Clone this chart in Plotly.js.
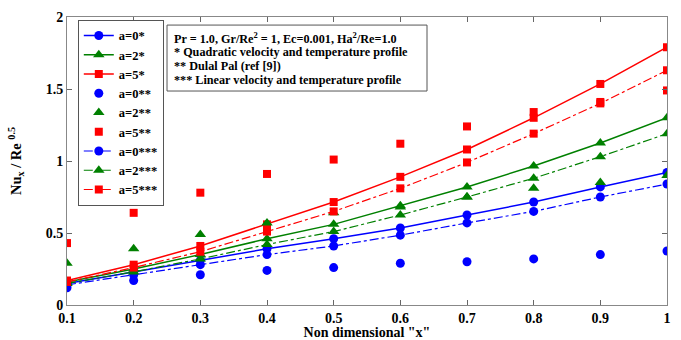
<!DOCTYPE html>
<html>
<head>
<meta charset="utf-8">
<script src="https://cdn.plot.ly/plotly-3.0.1.min.js"></script>
<style>html,body{margin:0;padding:0;background:#fff;}#chart{width:681px;height:340px;}</style>
</head>
<body>
<div id="chart"></div>
<script>
const xVals = [0.1, 0.2, 0.3, 0.4, 0.5, 0.6, 0.7, 0.8, 0.9, 1.0];
// * Quadratic velocity and temperature profile
const a0_quad = [0.15, 0.23, 0.31, 0.39, 0.46, 0.535, 0.625, 0.715, 0.82, 0.92];
const a2_quad = [0.16, 0.25, 0.35, 0.46, 0.56, 0.69, 0.82, 0.965, 1.125, 1.30];
const a5_quad = [0.17, 0.28, 0.41, 0.56, 0.715, 0.89, 1.08, 1.30, 1.535, 1.79];
// ** Dulal Pal (ref [9])
const a0_pal = [0.12, 0.17, 0.21, 0.24, 0.26, 0.29, 0.30, 0.32, 0.35, 0.375];
const a2_pal = [0.29, 0.39, 0.49, 0.57, 0.64, 0.68, 0.75, 0.81, 0.85, 0.90];
const a5_pal = [0.43, 0.64, 0.78, 0.91, 1.01, 1.12, 1.24, 1.34, 1.41, 1.49];
// *** Linear velocity and temperature profile
const a0_lin = [0.14, 0.21, 0.28, 0.35, 0.41, 0.485, 0.57, 0.65, 0.75, 0.84];
const a2_lin = [0.15, 0.23, 0.32, 0.42, 0.51, 0.625, 0.75, 0.88, 1.03, 1.19];
const a5_lin = [0.16, 0.26, 0.37, 0.51, 0.65, 0.81, 0.99, 1.19, 1.40, 1.63];

const xTicks = [0.1, 0.2, 0.3, 0.4, 0.5, 0.6, 0.7, 0.8, 0.9, 1];
const xTickText = ['0.1', '0.2', '0.3', '0.4', '0.5', '0.6', '0.7', '0.8', '0.9', '1'];
const yTicks = [0, 0.5, 1, 1.5, 2];
const yTickText = ['0', '0.5', '1', '1.5', '2'];

const infoLines = [
  'Pr = 1.0, Gr/Re<sup>2</sup> = 1, Ec=0.001, Ha<sup>2</sup>/Re=1.0',
  '* Quadratic velocity and temperature profile',
  '** Dulal Pal (ref [9])',
  '*** Linear velocity and temperature profile'
];

const BLUE = '#0000ff', GREEN = '#008000', RED = '#ff0000';
const FONT = 'Liberation Serif, Times New Roman, serif';

function tr(name, y, color, sym, size, mode, dash) {
  const t = {x: xVals, y: y, name: name, type: 'scatter', mode: mode,
    marker: {color: color, symbol: sym, size: size}};
  if (mode.indexOf('lines') >= 0) t.line = {color: color, width: dash === 'solid' ? 1.5 : 1.2, dash: dash};
  return t;
}

const data = [
  tr('a=0*', a0_quad, BLUE, 'circle', 9, 'lines+markers', 'solid'),
  tr('a=2*', a2_quad, GREEN, 'triangle-up', 10, 'lines+markers', 'solid'),
  tr('a=5*', a5_quad, RED, 'square', 8, 'lines+markers', 'solid'),
  tr('a=0**', a0_pal, BLUE, 'circle', 9, 'markers'),
  tr('a=2**', a2_pal, GREEN, 'triangle-up', 10, 'markers'),
  tr('a=5**', a5_pal, RED, 'square', 8, 'markers'),
  tr('a=0***', a0_lin, BLUE, 'circle', 9, 'lines+markers', 'dashdot'),
  tr('a=2***', a2_lin, GREEN, 'triangle-up', 10, 'lines+markers', 'dashdot'),
  tr('a=5***', a5_lin, RED, 'square', 8, 'lines+markers', 'dashdot')
];

const lineY = [0.927, 0.878, 0.830, 0.781];
const annotations = infoLines.map((t, i) => ({
  xref: 'paper', yref: 'paper', x: 0.175, y: lineY[i], xanchor: 'left', yanchor: 'middle',
  text: t, align: 'left', showarrow: false,
  font: {family: FONT, size: 12.2, color: '#000', weight: 'bold'}
}));

const layout = {
  width: 681, height: 340,
  margin: {l: 67, r: 14, t: 17, b: 35},
  paper_bgcolor: '#fff', plot_bgcolor: '#fff',
  font: {family: FONT, color: '#000'},
  showlegend: true,
  legend: {x: 0.018, y: 0.99, xanchor: 'left', yanchor: 'top',
    bordercolor: '#555', borderwidth: 1, bgcolor: '#fff',
    font: {family: FONT, size: 12.5, color: '#000', weight: 'bold'},
    tracegroupgap: 0, itemwidth: 30},
  xaxis: {range: [0.1, 1], tickvals: xTicks, ticktext: xTickText,
    ticks: 'inside', ticklen: 5, tickcolor: '#666', showline: true, linecolor: '#888',
    linewidth: 1, mirror: 'ticks', showgrid: false, zeroline: false,
    tickfont: {family: FONT, size: 14, weight: 'bold'},
    title: {text: 'Non dimensional "x"', font: {family: FONT, size: 14, weight: 'bold'}, standoff: 4}},
  yaxis: {range: [0, 2], tickvals: yTicks, ticktext: yTickText,
    ticks: 'inside', ticklen: 5, tickcolor: '#666', showline: true, linecolor: '#888',
    linewidth: 1, mirror: 'ticks', showgrid: false, zeroline: false,
    tickfont: {family: FONT, size: 14, weight: 'bold'},
    title: {text: 'Nu<sub>x</sub> / Re <sup>0.5</sup>', font: {family: FONT, size: 14.5, weight: 'bold'}, standoff: 20}},
  shapes: [{type: 'rect', xref: 'paper', yref: 'paper', x0: 0.1667, x1: 0.6, y0: 0.743, y1: 0.972,
    line: {color: '#555', width: 1}, fillcolor: '#fff', layer: 'above'}],
  annotations: annotations
};

Plotly.newPlot('chart', data, layout, {displayModeBar: false, staticPlot: true});
</script>
</body>
</html>
